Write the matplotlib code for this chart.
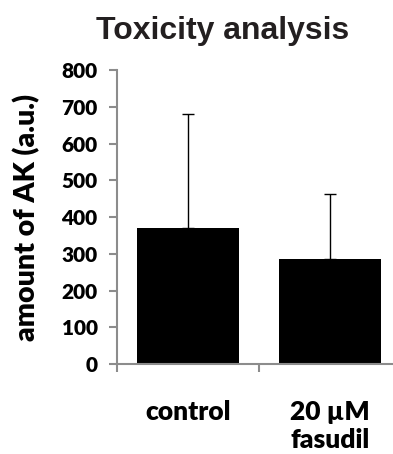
import numpy as np
import matplotlib.pyplot as plt

# Data
groups = ['control', '20 µM\nfasudil']
amount = [370, 285]
err_up = [310, 177]

fig = plt.figure(figsize=(3.93, 4.54), dpi=100)
ax = fig.add_axes([0.2977, 0.198, 0.7226, 0.6478])

x = np.arange(len(groups))
ax.bar(x, amount, width=0.725, color='black', zorder=2)
ax.errorbar(x, amount, yerr=[np.zeros(len(err_up)), err_up], fmt='none',
            ecolor='black', elinewidth=1, capsize=4, capthick=1, zorder=1)

ax.set_xlim(-0.5, 1.5)
ax.set_ylim(0, 800)
ax.set_yticks(np.arange(0, 801, 100))

axis_col = '#8c8c8c'
for s in ['top', 'right']:
    ax.spines[s].set_visible(False)
for s in ['left', 'bottom']:
    ax.spines[s].set_color(axis_col)
    ax.spines[s].set_linewidth(1.5)
ax.spines['left'].set_bounds(0, 800)

ax.set_xticks([-0.5, 0.5, 1.5])
ax.set_xticklabels([])
ax.set_xticks(x, minor=True)
ax.set_xticklabels(groups, minor=True, fontsize=19, fontweight='heavy', family='Lato',
                   linespacing=1.2)
ax.tick_params(axis='x', which='minor', length=0, pad=26)
ax.tick_params(axis='x', which='major', direction='out', length=6, width=1.5, color=axis_col)
ax.tick_params(axis='y', direction='out', length=6, width=1.5, color=axis_col, pad=8)
for lab in ax.get_yticklabels():
    lab.set_fontsize(15)
    lab.set_fontweight('heavy')
    lab.set_family('Lato')

ax.set_ylabel('amount of AK (a.u.)', fontsize=20.5, fontweight='heavy', family='Lato', labelpad=15)

fig.text(0.566, 0.932, 'Toxicity analysis', ha='center', va='center',
         fontsize=23, fontweight='bold', family='Liberation Sans', color='#231f20')

fig.savefig('out.png', dpi=100)
